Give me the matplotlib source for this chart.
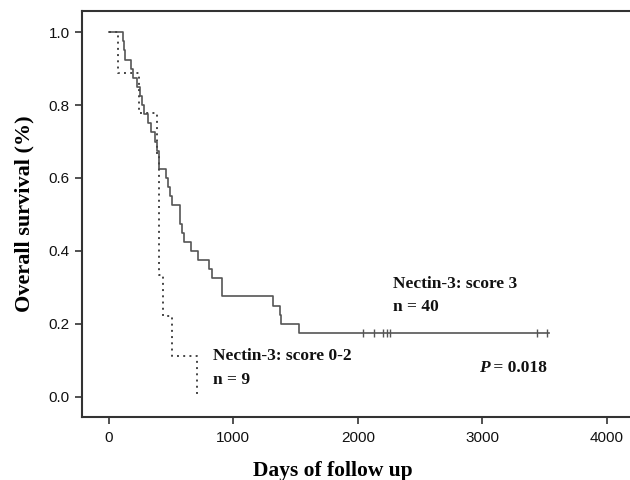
import matplotlib
matplotlib.use('Agg')
import matplotlib.pyplot as plt

# Nectin-3 score 3 (n = 40): step times (days) and survival after each step
hi_days = [0, 109, 120, 129, 174, 190, 222, 249, 263, 281, 316, 335, 370, 383,
           400, 405, 458, 477, 490, 504, 571, 575, 584, 603, 657, 718, 806, 825,
           906, 910, 1321, 1375, 1380, 1530, 3537]
hi_surv = [1.0, 0.975, 0.95, 0.925, 0.9, 0.875, 0.85, 0.825, 0.8, 0.775, 0.75,
           0.725, 0.7, 0.675, 0.65, 0.625, 0.6, 0.575, 0.55, 0.525, 0.5, 0.475,
           0.45, 0.425, 0.4, 0.375, 0.35, 0.325, 0.3, 0.275, 0.25, 0.225, 0.2,
           0.175, 0.175]
hi_cens_days = [2044, 2130, 2205, 2232, 2259, 3441, 3520]
hi_cens_surv = [0.175] * len(hi_cens_days)

# Nectin-3 score 0-2 (n = 9)
lo_days = [0, 75, 241, 383, 400, 437, 504, 707]
lo_surv = [1.0, 0.889, 0.778, 0.667, 0.333, 0.222, 0.111, 0.0]

xticks = [0, 1000, 2000, 3000, 4000]
yticks = [0.0, 0.2, 0.4, 0.6, 0.8, 1.0]

serif = ['Liberation Serif', 'DejaVu Serif']
sans = ['Liberation Sans', 'DejaVu Sans']
ink = '#333333'

fig = plt.figure(figsize=(6.3, 4.8), dpi=100)
ax = fig.add_axes([0.1297, 0.1319, 0.8703, 0.8458])

ax.step(hi_days, hi_surv, where='post', color='#555555', lw=1.2)
ax.plot(hi_cens_days, hi_cens_surv, ls='none', marker='|', ms=6, mew=1.0, color='#555555')
ax.step(lo_days, lo_surv, where='post', color='#444444', lw=1.4, ls=(0, (1, 2.2)))

ax.set_xlim(-219, 4188)
ax.set_ylim(-0.055, 1.059)
ax.set_xticks(xticks)
ax.set_yticks(yticks)
ax.set_xticklabels([str(t) for t in xticks], family=sans, fontsize=11, color='#111111')
ax.set_yticklabels([f'{t:.1f}' for t in yticks], family=sans, fontsize=11, color='#111111')
ax.tick_params(direction='out', length=5, width=1.2, color=ink)
ax.tick_params(axis='x', pad=5)

for side in ['left', 'bottom', 'top']:
    ax.spines[side].set_linewidth(1.5)
    ax.spines[side].set_color(ink)
ax.spines['right'].set_visible(False)

ax.set_xlabel('Days of follow up', family=serif, fontweight='bold', fontsize=15.5)
ax.xaxis.set_label_coords(0.458, -0.108)
ax.set_ylabel('Overall survival (%)', family=serif, fontweight='bold', fontsize=16, labelpad=10)

tkw = dict(family=serif, fontweight='bold', fontsize=12.5, color='#111111', va='center')
ax.text(2280, 0.31, 'Nectin-3: score 3', **tkw)
ax.text(2280, 0.247, 'n = 40', **tkw)
ax.text(838, 0.112, 'Nectin-3: score 0-2', **tkw)
ax.text(838, 0.045, 'n = 9', **tkw)
p_txt = ax.text(2973, 0.079, 'P', style='italic', **tkw)
ax.annotate(' = 0.018', xy=(1, 0.5), xycoords=p_txt, **tkw)

fig.savefig('out.png', dpi=100)
